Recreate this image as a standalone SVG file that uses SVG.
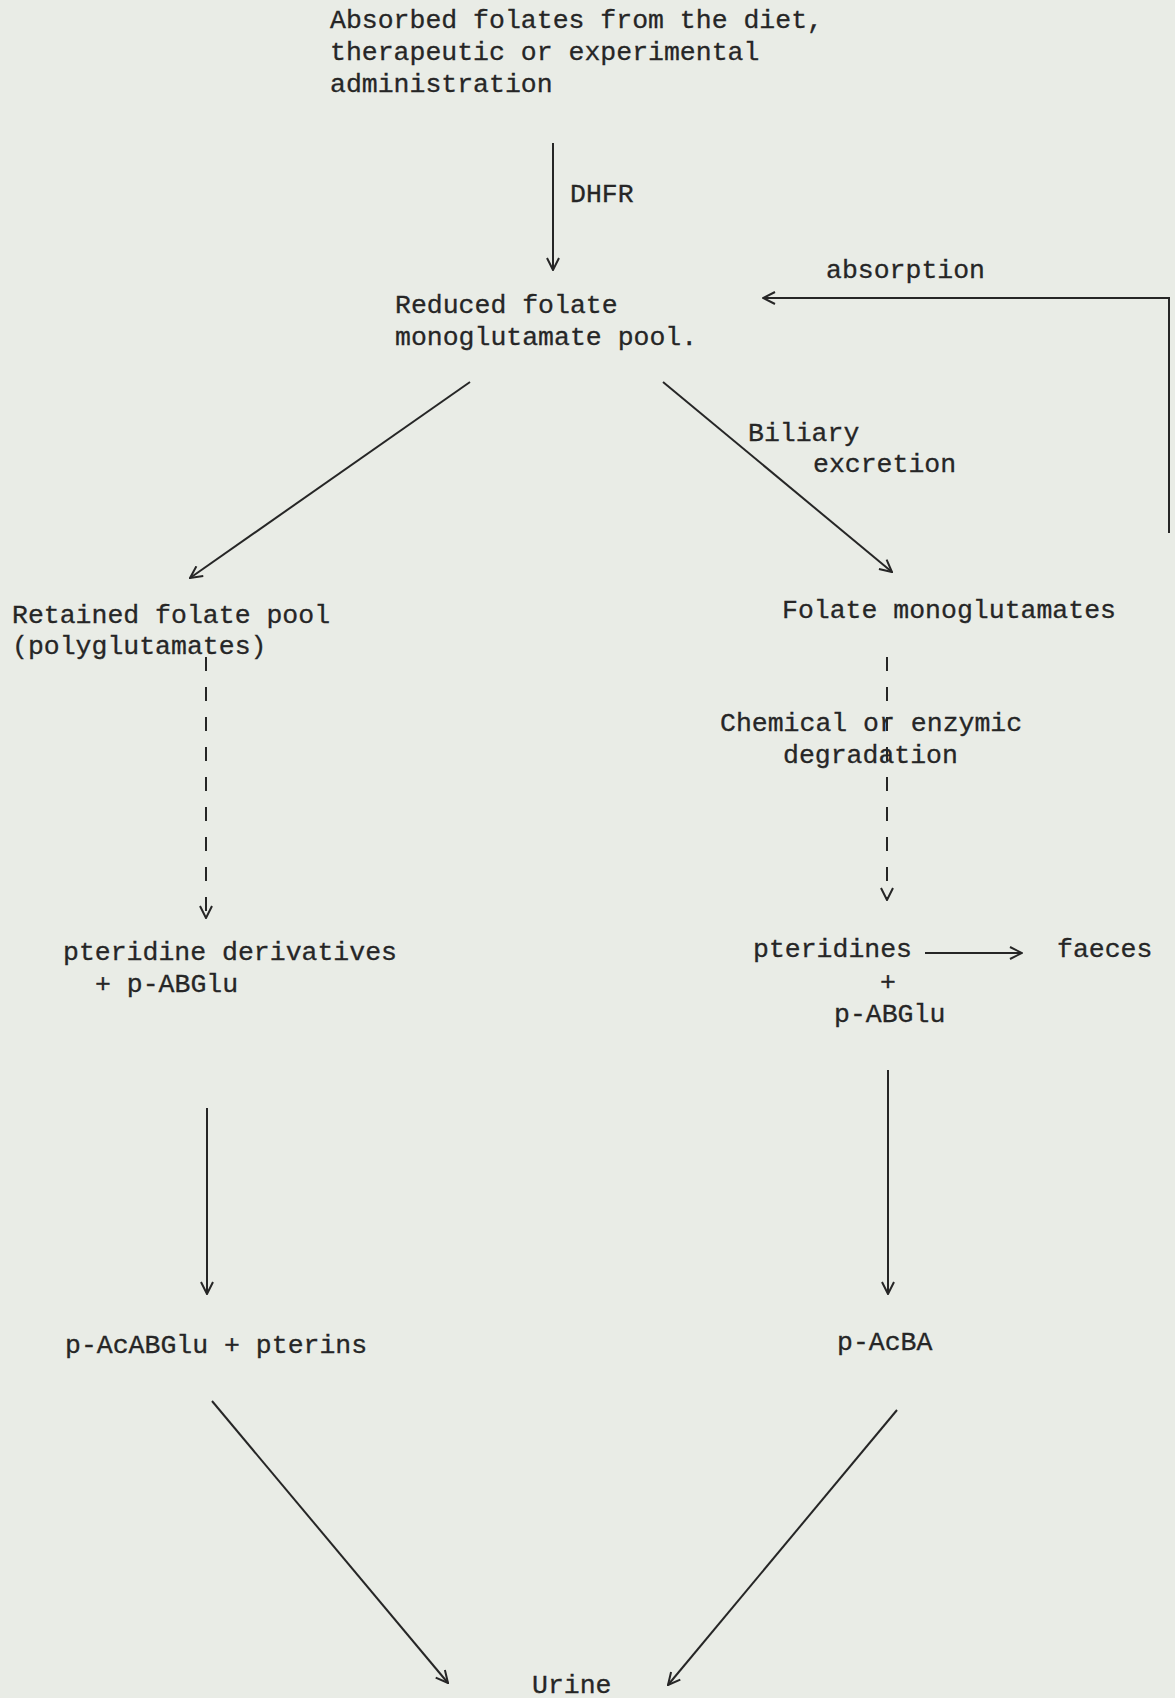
<svg xmlns="http://www.w3.org/2000/svg" width="1175" height="1698" viewBox="0 0 1175 1698">
<style>
text{font-family:"Liberation Mono","Courier New",monospace;font-size:26.5px;fill:#262626;stroke:#262626;stroke-width:0.3}
.c{fill:none;stroke:#262626;stroke-width:2}
.d{stroke-dasharray:14 16}
</style>
<defs>
<marker id="ah" viewBox="0 0 14 14" refX="13" refY="7" markerWidth="14" markerHeight="14" markerUnits="userSpaceOnUse" orient="auto">
<path d="M1,1 L13,7 L1,13" fill="none" stroke="#262626" stroke-width="2"/>
</marker>
</defs>
<rect width="1175" height="1698" fill="#e9ece6"/>
<g id="connectors">
<line class="c" x1="553" y1="143" x2="553" y2="270" marker-end="url(#ah)"/>
<polyline class="c" points="1169,533 1169,298 763,298" marker-end="url(#ah)"/>
<line class="c" x1="470" y1="382" x2="190" y2="578" marker-end="url(#ah)"/>
<line class="c" x1="663" y1="382" x2="892" y2="572" marker-end="url(#ah)"/>
<line class="c d" x1="206" y1="657" x2="206" y2="918" marker-end="url(#ah)"/>
<line class="c d" x1="887" y1="657" x2="887" y2="900" marker-end="url(#ah)"/>
<line class="c" x1="925" y1="953" x2="1022" y2="953" marker-end="url(#ah)"/>
<line class="c" x1="207" y1="1108" x2="207" y2="1294" marker-end="url(#ah)"/>
<line class="c" x1="888" y1="1070" x2="888" y2="1294" marker-end="url(#ah)"/>
<line class="c" x1="212" y1="1401" x2="448" y2="1683" marker-end="url(#ah)"/>
<line class="c" x1="897" y1="1410" x2="668" y2="1685" marker-end="url(#ah)"/>
</g>
<g id="n-absorbed">
<text x="330" y="28">Absorbed folates from the diet,</text>
<text x="330" y="60">therapeutic or experimental</text>
<text x="330" y="92">administration</text>
</g>
<g id="l-dhfr"><text x="570" y="202">DHFR</text></g>
<g id="l-absorption"><text x="826" y="278">absorption</text></g>
<g id="n-reduced">
<text x="395" y="313">Reduced folate</text>
<text x="395" y="345">monoglutamate pool.</text>
</g>
<g id="l-biliary">
<text x="748" y="441">Biliary</text>
<text x="813" y="472">excretion</text>
</g>
<g id="n-retained">
<text x="12" y="623">Retained folate pool</text>
<text x="12" y="654">(polyglutamates)</text>
</g>
<g id="n-folatemono"><text x="782" y="618">Folate monoglutamates</text></g>
<g id="l-degradation">
<text x="720" y="731">Chemical or enzymic</text>
<text x="783" y="763">degradation</text>
</g>
<g id="n-pteridine-deriv">
<text x="63" y="960">pteridine derivatives</text>
<text x="95" y="992">+ p-ABGlu</text>
</g>
<g id="n-pteridines">
<text x="753" y="957">pteridines</text>
<text x="880" y="990">+</text>
<text x="834" y="1022">p-ABGlu</text>
</g>
<g id="n-faeces"><text x="1057" y="957">faeces</text></g>
<g id="n-acabglu"><text x="65" y="1353">p-AcABGlu + pterins</text></g>
<g id="n-acba"><text x="837" y="1350">p-AcBA</text></g>
<g id="n-urine"><text x="532" y="1693">Urine</text></g>
</svg>
